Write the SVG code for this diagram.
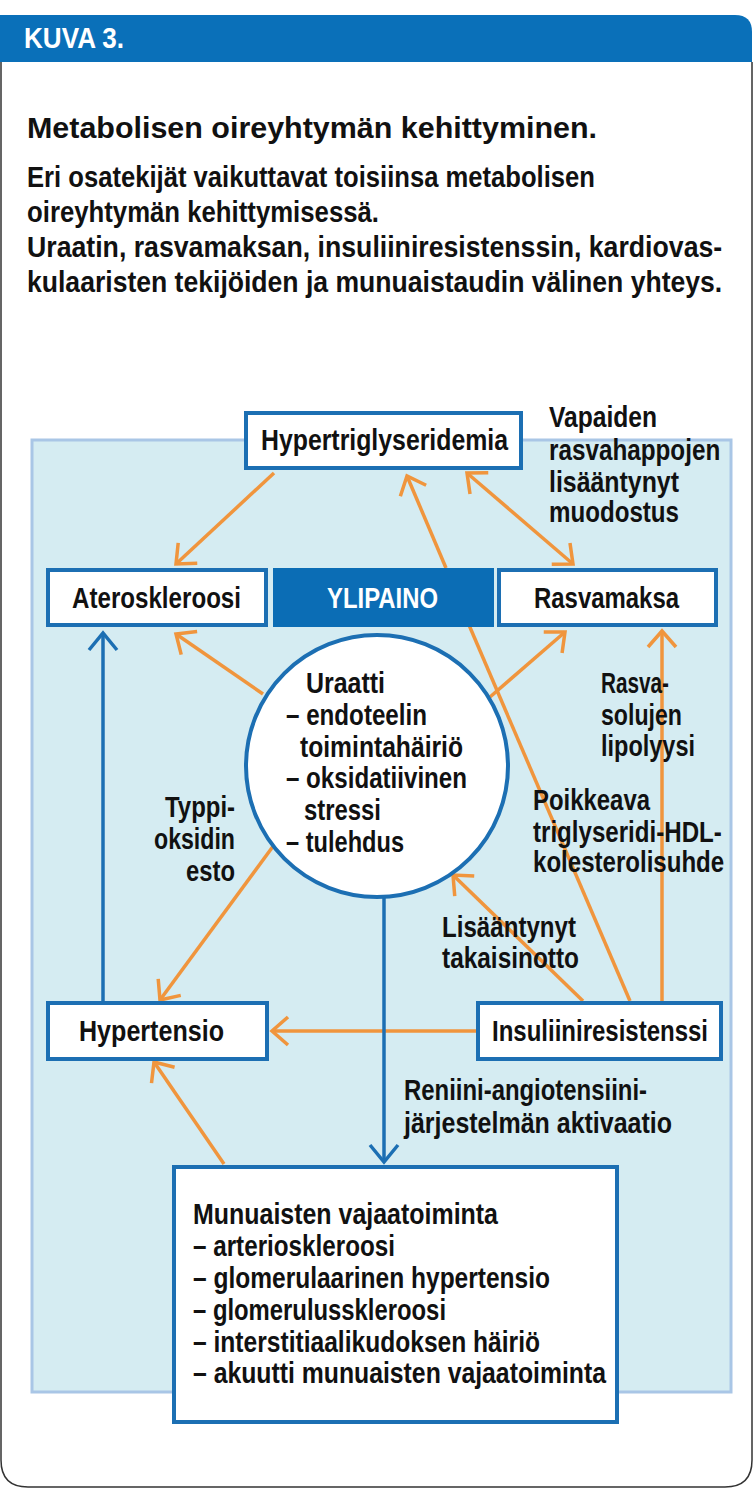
<svg xmlns="http://www.w3.org/2000/svg" width="754" height="1490" viewBox="0 0 754 1490">
<style>
.t{font-family:"Liberation Sans Narrow","Liberation Sans",Arial,sans-serif;font-weight:bold;font-size:29px;fill:#111}
.w{fill:#fff}
.box{fill:#fff;stroke:#1c6fb3;stroke-width:4}
.o{fill:none;stroke:#f0953d;stroke-width:3.5}
.b{fill:none;stroke:#1c6fb3;stroke-width:3.5}
</style>
<defs>
<marker id="ao" viewBox="-25 -20 30 40" markerWidth="30" markerHeight="40" refX="0" refY="0" orient="auto-start-reverse" markerUnits="userSpaceOnUse"><path d="M-16,-14 L0,0 L-16,14" fill="none" stroke="#f0953d" stroke-width="3.5"/></marker>
<marker id="ab" viewBox="-25 -20 30 40" markerWidth="30" markerHeight="40" refX="0" refY="0" orient="auto" markerUnits="userSpaceOnUse"><path d="M-17,-14 L0,0 L-17,14" fill="none" stroke="#1c6fb3" stroke-width="3.5"/></marker>
</defs>
<rect width="754" height="1490" fill="#fff"/>
<g id="frame">
<path d="M0,15 H735 Q752,15 752,32 V62 H0 Z" fill="#0a70b9"/>
<path d="M1,62 V1460 Q1,1487 28,1487 H725 Q752,1487 752,1460 V62" fill="none" stroke="#333" stroke-width="1.5"/>
<text class="t w" x="24" y="48" font-size="31" textLength="100" lengthAdjust="spacingAndGlyphs">KUVA 3.</text>
</g>
<g id="heading">
<text class="t" x="27" y="138" font-size="34" textLength="570" lengthAdjust="spacingAndGlyphs">Metabolisen oireyhtymän kehittyminen.</text>
<text class="t" x="27" y="187" textLength="568" lengthAdjust="spacingAndGlyphs">Eri osatekijät vaikuttavat toisiinsa metabolisen</text>
<text class="t" x="27" y="222" textLength="352" lengthAdjust="spacingAndGlyphs">oireyhtymän kehittymisessä.</text>
<text class="t" transform="translate(27,257) scale(0.8,1)" x="0" y="0" textLength="869" lengthAdjust="spacingAndGlyphs">Uraatin, rasvamaksan, insuliiniresistenssin, kardiovas-</text>
<text class="t" transform="translate(27,292) scale(0.8,1)" x="0" y="0" textLength="869" lengthAdjust="spacingAndGlyphs">kulaaristen tekijöiden ja munuaistaudin välinen yhteys.</text>
</g>
<rect id="panel" x="32" y="440" width="699" height="952" fill="#d5ecf2" stroke="#a9c6e6" stroke-width="3"/>
<g id="connectors">
<line class="o" x1="274" y1="473" x2="176" y2="564" marker-end="url(#ao)"/>
<line class="o" x1="446" y1="568" x2="407" y2="476" marker-end="url(#ao)"/>
<line class="o" x1="467" y1="473" x2="573" y2="564" marker-start="url(#ao)" marker-end="url(#ao)"/>
<line class="o" x1="263" y1="694" x2="176" y2="634" marker-end="url(#ao)"/>
<line class="o" x1="490" y1="697" x2="565" y2="632" marker-end="url(#ao)"/>
<line class="o" x1="662" y1="1001" x2="662" y2="631" marker-end="url(#ao)"/>
<line class="o" x1="469" y1="625" x2="630" y2="1001"/>
<line class="o" x1="583" y1="1001" x2="453" y2="875" marker-end="url(#ao)"/>
<line class="o" x1="477" y1="1031" x2="272" y2="1031" marker-end="url(#ao)"/>
<line class="o" x1="274" y1="845" x2="160" y2="1000" marker-end="url(#ao)"/>
<line class="o" x1="224" y1="1164" x2="154" y2="1062" marker-end="url(#ao)"/>
<line class="b" x1="103" y1="1001" x2="103" y2="633" marker-end="url(#ab)"/>
<line class="b" x1="384" y1="896" x2="384" y2="1162" marker-end="url(#ab)"/>
</g>
<g id="labels">
<text class="t" x="549" y="427" textLength="108" lengthAdjust="spacingAndGlyphs">Vapaiden</text>
<text class="t" transform="translate(549,460) scale(0.8,1)" x="0" y="0" textLength="214" lengthAdjust="spacingAndGlyphs">rasvahappojen</text>
<text class="t" x="549" y="492" textLength="130" lengthAdjust="spacingAndGlyphs">lisääntynyt</text>
<text class="t" x="549" y="522" textLength="130" lengthAdjust="spacingAndGlyphs">muodostus</text>
<text class="t" x="601" y="693" textLength="68" lengthAdjust="spacingAndGlyphs">Rasva-</text>
<text class="t" x="601" y="725" textLength="81" lengthAdjust="spacingAndGlyphs">solujen</text>
<text class="t" x="601" y="756" textLength="94" lengthAdjust="spacingAndGlyphs">lipolyysi</text>
<text class="t" x="533" y="810" textLength="117" lengthAdjust="spacingAndGlyphs">Poikkeava</text>
<text class="t" transform="translate(533,842) scale(0.8,1)" x="0" y="0" textLength="236" lengthAdjust="spacingAndGlyphs">triglyseridi-HDL-</text>
<text class="t" transform="translate(533,872) scale(0.8,1)" x="0" y="0" textLength="239" lengthAdjust="spacingAndGlyphs">kolesterolisuhde</text>
<text class="t" x="442" y="937" textLength="134" lengthAdjust="spacingAndGlyphs">Lisääntynyt</text>
<text class="t" x="442" y="968" textLength="137" lengthAdjust="spacingAndGlyphs">takaisinotto</text>
<text class="t" x="165" y="817" textLength="70" lengthAdjust="spacingAndGlyphs">Typpi-</text>
<text class="t" x="154" y="849" textLength="81" lengthAdjust="spacingAndGlyphs">oksidin</text>
<text class="t" x="186" y="881" textLength="49" lengthAdjust="spacingAndGlyphs">esto</text>
<text class="t" x="404" y="1100" textLength="243" lengthAdjust="spacingAndGlyphs">Reniini-angiotensiini-</text>
<text class="t" x="404" y="1133" textLength="268" lengthAdjust="spacingAndGlyphs">järjestelmän aktivaatio</text>
</g>
<g id="hypertriglyseridemia">
<rect class="box" x="246" y="413" width="275" height="55"/>
<text class="t" x="261" y="450" textLength="247" lengthAdjust="spacingAndGlyphs">Hypertriglyseridemia</text>
</g>
<g id="ateroskleroosi">
<rect class="box" x="48" y="570" width="218" height="55"/>
<text class="t" x="72" y="608" textLength="169" lengthAdjust="spacingAndGlyphs">Ateroskleroosi</text>
</g>
<g id="ylipaino">
<rect x="273" y="568" width="221" height="59" fill="#0b6db5"/>
<text class="t w" x="327" y="608" textLength="111" lengthAdjust="spacingAndGlyphs">YLIPAINO</text>
</g>
<g id="rasvamaksa">
<rect class="box" x="499" y="570" width="217" height="55"/>
<text class="t" x="534" y="608" textLength="145" lengthAdjust="spacingAndGlyphs">Rasvamaksa</text>
</g>
<g id="uraatti">
<circle cx="377" cy="766" r="131" fill="#fff" stroke="#1c6fb3" stroke-width="4"/>
<text class="t" x="306" y="693" font-size="30" textLength="79" lengthAdjust="spacingAndGlyphs">Uraatti</text>
<text class="t" x="286" y="725" font-size="30" textLength="141" lengthAdjust="spacingAndGlyphs">– endoteelin</text>
<text class="t" x="300" y="757" font-size="30" textLength="163" lengthAdjust="spacingAndGlyphs">toimintahäiriö</text>
<text class="t" x="286" y="788" font-size="30" textLength="181" lengthAdjust="spacingAndGlyphs">– oksidatiivinen</text>
<text class="t" x="304" y="820" font-size="30" textLength="77" lengthAdjust="spacingAndGlyphs">stressi</text>
<text class="t" x="286" y="852" font-size="30" textLength="118" lengthAdjust="spacingAndGlyphs">– tulehdus</text>
</g>
<g id="hypertensio">
<rect class="box" x="48" y="1003" width="219" height="56"/>
<text class="t" x="79" y="1041" textLength="145" lengthAdjust="spacingAndGlyphs">Hypertensio</text>
</g>
<g id="insuliiniresistenssi">
<rect class="box" x="478" y="1003" width="243" height="56"/>
<text class="t" x="492" y="1041" textLength="216" lengthAdjust="spacingAndGlyphs">Insuliiniresistenssi</text>
</g>
<g id="munuaisten">
<rect class="box" x="174" y="1167" width="443" height="255"/>
<text class="t" x="193" y="1224" textLength="305" lengthAdjust="spacingAndGlyphs">Munuaisten vajaatoiminta</text>
<text class="t" x="193" y="1256" textLength="202" lengthAdjust="spacingAndGlyphs">– arterioskleroosi</text>
<text class="t" x="193" y="1288" textLength="357" lengthAdjust="spacingAndGlyphs">– glomerulaarinen hypertensio</text>
<text class="t" x="193" y="1320" textLength="253" lengthAdjust="spacingAndGlyphs">– glomerulusskleroosi</text>
<text class="t" x="193" y="1352" textLength="347" lengthAdjust="spacingAndGlyphs">– interstitiaalikudoksen häiriö</text>
<text class="t" x="193" y="1383" textLength="413" lengthAdjust="spacingAndGlyphs">– akuutti munuaisten vajaatoiminta</text>
</g>
</svg>
